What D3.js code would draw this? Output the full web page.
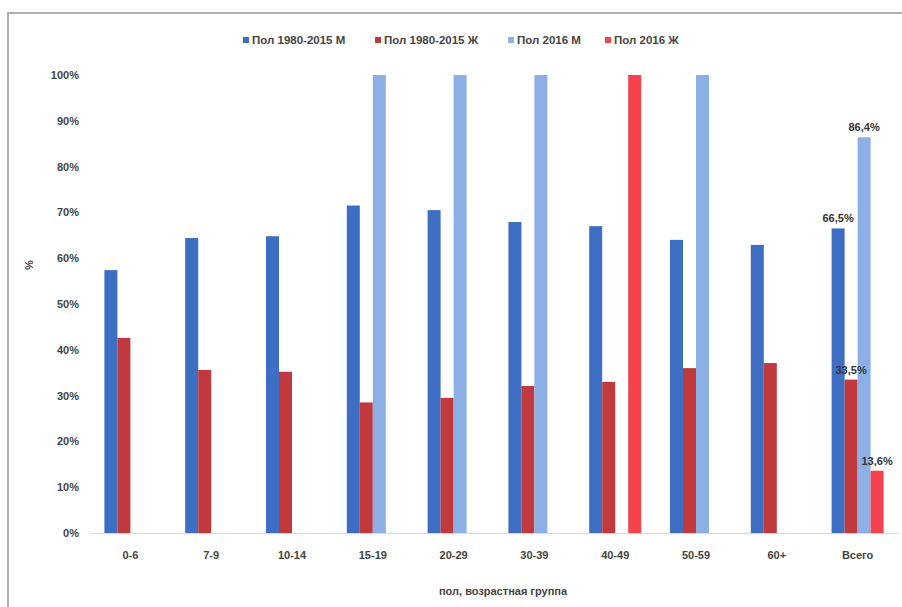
<!DOCTYPE html>
<html><head><meta charset="utf-8">
<script src="https://cdn.jsdelivr.net/npm/d3@7"></script>
<style>body{margin:0;background:#fff}svg{display:block;font-family:"Liberation Sans",Arial,sans-serif}</style>
</head><body><svg id="c" width="902" height="607"></svg>
<script>
const categories = ["0-6","7-9","10-14","15-19","20-29","30-39","40-49","50-59","60+","Всего"];
const seriesNames = ["Пол 1980-2015 М","Пол 1980-2015 Ж","Пол 2016 М","Пол 2016 Ж"];
const male8015   = [57.4,64.4,64.8,71.5,70.5,67.9,67.0,64.0,62.9,66.5];
const female8015 = [42.6,35.6,35.2,28.5,29.5,32.1,33.0,36.0,37.1,33.5];
const male2016   = [0,0,0,100,100,100,0,100,0,86.4];
const female2016 = [0,0,0,0,0,0,100,0,0,13.6];
const yTicks = [0,10,20,30,40,50,60,70,80,90,100];
const labelled = {"Всего":["66,5%","33,5%","86,4%","13,6%"]};
const colors = ["#3d6ec4","#c0393d","#8cb0e6","#f4434f"];
const seriesValues = [male8015,female8015,male2016,female2016];

const svg = d3.select("#c");
svg.append("rect").attr("x",8).attr("y",13).attr("width",902).attr("height",620)
  .attr("fill","#fff").attr("stroke","#b0b0b0").attr("stroke-width",2);

const x0 = d3.scaleBand().domain(categories).range([90,898]).padding(0);
const x1 = d3.scaleBand().domain(d3.range(4)).range([0,52]);
const y = d3.scaleLinear().domain([0,100]).range([533,75]);

// y axis
const ya = svg.append("g").attr("transform","translate(81,0)")
  .call(d3.axisLeft(y).tickValues(yTicks).tickFormat(d=>d+"%").tickSize(0).tickPadding(2));
ya.select(".domain").remove();
ya.selectAll("text").attr("font-size",11).attr("font-weight","bold").attr("fill","#444");

// x axis
const xa = svg.append("g").attr("transform","translate(0,533)")
  .call(d3.axisBottom(x0).tickSize(0).tickPadding(18));
xa.select(".domain").attr("stroke","#d9d9d9");
xa.selectAll("text").attr("font-size",11).attr("font-weight","bold").attr("fill","#444");

// bars
const g = svg.append("g");
seriesValues.forEach((vals,si)=>{
  g.selectAll(null).data(categories.map((c,i)=>({c,v:vals[i]})).filter(d=>d.v>0))
    .enter().append("rect")
    .attr("x",d=>x0(d.c)+x0.bandwidth()/2-26+x1(si))
    .attr("width",x1.bandwidth())
    .attr("y",d=>y(d.v)).attr("height",d=>y(0)-y(d.v))
    .attr("fill",colors[si]);
});

// data labels
Object.keys(labelled).forEach(c=>{
  const i = categories.indexOf(c);
  labelled[c].forEach((t,si)=>{
    svg.append("text")
      .attr("x",x0(c)+x0.bandwidth()/2-26+x1(si)+x1.bandwidth()/2)
      .attr("y",y(seriesValues[si][i])-6)
      .attr("text-anchor","middle").attr("font-size",11).attr("font-weight","bold")
      .attr("fill","#333").text(t);
  });
});

// axis titles
svg.append("text").attr("transform","translate(33,265) rotate(-90)")
  .attr("text-anchor","middle").attr("font-size",11).attr("font-weight","bold").attr("fill","#444").text("%");
svg.append("text").attr("x",503).attr("y",595).attr("text-anchor","middle")
  .attr("font-size",11).attr("font-weight","bold").attr("fill","#444").text("пол, возрастная группа");

// legend
const legX = [243,375,508,605];
seriesNames.forEach((n,i)=>{
  svg.append("rect").attr("x",legX[i]).attr("y",37).attr("width",6).attr("height",6).attr("fill",colors[i]);
  svg.append("text").attr("x",legX[i]+9).attr("y",44).attr("font-size",11.5).attr("font-weight","bold")
    .attr("fill","#444").text(n);
});
</script></body></html>
